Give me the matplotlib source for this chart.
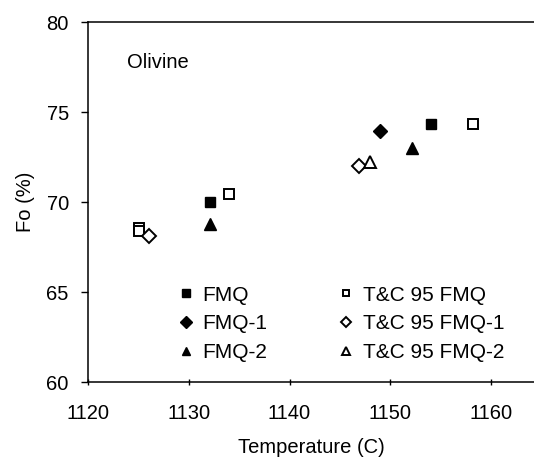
import matplotlib
matplotlib.use("Agg")
import matplotlib.pyplot as plt

plt.rcParams['font.family'] = ['Liberation Sans', 'DejaVu Sans']

# measured temperatures (C) and forsterite content (%)
fmq_t = [1132.1, 1154.1]
fmq_fo = [70.0, 74.35]
fmq1_t = [1149.0]
fmq1_fo = [73.93]
fmq2_t = [1132.1, 1152.2]
fmq2_fo = [68.8, 73.0]

# Toplis & Carroll 1995 values
tc_fmq_t = [1125.0, 1125.0, 1134.0, 1158.2]
tc_fmq_fo = [68.58, 68.41, 70.45, 74.35]
tc_fmq1_t = [1126.0, 1146.9]
tc_fmq1_fo = [68.1, 72.0]
tc_fmq2_t = [1148.0]
tc_fmq2_fo = [72.2]

fig = plt.figure(figsize=(5.34, 4.59), dpi=100)
ax = fig.add_axes([88.3/534, 1-382/459, 1-88.3/534, 360/459])

ax.plot(fmq_t, fmq_fo, 's', ms=7.8, color='black', label='FMQ')
ax.plot(fmq1_t, fmq1_fo, 'D', ms=7.5, color='black', label='FMQ-1')
ax.plot(fmq2_t, fmq2_fo, '^', ms=8.5, color='black', label='FMQ-2')
ax.plot(tc_fmq_t, tc_fmq_fo, 's', ms=6.5, mfc='white', mec='black', mew=1.4, label='T&C 95 FMQ')
ax.plot(tc_fmq1_t, tc_fmq1_fo, 'D', ms=7, mfc='white', mec='black', mew=1.4, label='T&C 95 FMQ-1')
ax.plot(tc_fmq2_t, tc_fmq2_fo, '^', ms=8, mfc='white', mec='black', mew=1.4, label='T&C 95 FMQ-2')

ax.set_xlim(1120, 1164.3)
ax.set_ylim(60, 80)
ax.set_xticks([1120, 1130, 1140, 1150, 1160])
ax.set_yticks([60, 65, 70, 75, 80])
ax.spines['right'].set_visible(False)
for s in ['left', 'bottom', 'top']:
    ax.spines[s].set_linewidth(1.1)
ax.tick_params(axis='y', direction='out', length=5, width=1, labelsize=14.5, pad=9)
ax.tick_params(axis='x', direction='inout', length=5, width=1, labelsize=14.5, pad=13)

ax.set_xlabel('Temperature (C)', fontsize=14.5, labelpad=11)
ax.set_ylabel('Fo (%)', fontsize=14.5, labelpad=8)

ax.text(1123.85, 77.44, 'Olivine', fontsize=14.5, ha='left', va='baseline')

ax.legend(ncol=2, loc='upper left', bbox_to_anchor=(0.196, 0.268), frameon=False,
          fontsize=15, markerscale=0.75, handlelength=1.0, handletextpad=0.3,
          columnspacing=3.27, labelspacing=0.47, borderpad=0, borderaxespad=0)

fig.savefig('out.png', dpi=100)
